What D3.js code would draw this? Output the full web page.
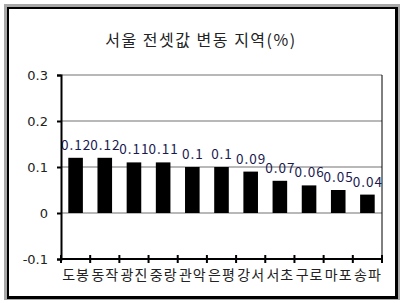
<!doctype html>
<html>
<head>
<meta charset="utf-8">
<script src="https://d3js.org/d3.v7.min.js"></script>
<style>
body { margin: 0; background: #fff; }
text { font-family: "Noto Sans CJK KR", "DejaVu Sans", sans-serif; }
</style>
</head>
<body>
<script>
const regions = ["도봉", "동작", "광진", "중랑", "관악", "은평", "강서", "서초", "구로", "마포", "송파"];
const changes = [0.12, 0.12, 0.11, 0.11, 0.1, 0.1, 0.09, 0.07, 0.06, 0.05, 0.04];
const yTicks = [-0.1, 0, 0.1, 0.2, 0.3];
const yTickLabels = ["-0.1", "0", "0.1", "0.2", "0.3"];

const w = 403, h = 303;
const svg = d3.select("body").append("svg")
	.attr("width", w)
	.attr("height", h);

// frame: gray outline, black shadowed border, white inside
svg.append("rect").attr("x", 4).attr("y", 4).attr("width", 396).attr("height", 296).attr("fill", "#a8a8a8");
svg.append("rect").attr("x", 7).attr("y", 7).attr("width", 391).attr("height", 292).attr("fill", "#000");
svg.append("rect").attr("x", 9).attr("y", 9).attr("width", 386).attr("height", 287).attr("fill", "#fff");

svg.append("text")
	.attr("x", 201).attr("y", 46)
	.attr("text-anchor", "middle")
	.style("font-size", "16px")
	.style("letter-spacing", "1.5px")
	.style("fill", "#222")
	.text("서울 전셋값 변동 지역(%)");

const plotLeft = 61, plotRight = 382, plotTop = 75, plotBottom = 259;

const x = d3.scaleBand()
	.domain(regions)
	.range([plotLeft, plotRight])
	.paddingInner(0.5)
	.paddingOuter(0.25);

const y = d3.scaleLinear()
	.domain([-0.1, 0.3])
	.range([plotBottom, plotTop]);

// gridlines
svg.append("g").selectAll("line")
	.data(yTicks.filter(d => d > -0.1))
	.enter().append("line")
	.attr("x1", plotLeft).attr("x2", plotRight)
	.attr("y1", d => y(d)).attr("y2", d => y(d))
	.attr("stroke", "#a0a0a0")
	.attr("stroke-width", 1.5);

// right border of plot area
svg.append("line")
	.attr("x1", plotRight).attr("x2", plotRight)
	.attr("y1", plotTop).attr("y2", plotBottom)
	.attr("stroke", "#000").attr("stroke-width", 1);

// bars
svg.append("g").selectAll("rect")
	.data(changes)
	.enter().append("rect")
	.attr("x", (d, i) => x(regions[i]))
	.attr("width", x.bandwidth())
	.attr("y", d => y(d))
	.attr("height", d => y(0) - y(d))
	.attr("fill", "#000");

// value labels
svg.append("g").selectAll("text")
	.data(changes)
	.enter().append("text")
	.attr("x", (d, i) => x(regions[i]) + x.bandwidth() / 2 + 0.5)
	.attr("y", d => y(d) - 8)
	.attr("text-anchor", "middle")
	.style("font-size", "13.5px")
	.style("letter-spacing", "1px")
	.style("fill", "#1a1a50")
	.text(d => d);

// y axis
const yAxis = svg.append("g")
	.attr("transform", `translate(${plotLeft},0)`)
	.call(d3.axisLeft(y).tickValues(yTicks).tickSize(4).tickFormat((d, i) => yTickLabels[i]));
yAxis.select(".domain").attr("stroke", "#000").attr("stroke-width", 2);
yAxis.selectAll(".tick line").attr("stroke-width", 2);
yAxis.selectAll("text")
	.attr("x", -13)
	.style("font-size", "13px")
	.style("fill", "#222")
	.style("font-family", "'DejaVu Sans', sans-serif");

// x axis with ticks between categories
const xAxis = svg.append("g")
	.attr("transform", `translate(0,${plotBottom})`);
xAxis.append("line")
	.attr("x1", plotLeft).attr("x2", plotRight)
	.attr("stroke", "#000").attr("stroke-width", 2);
xAxis.selectAll(".sep")
	.data(d3.range(regions.length + 1))
	.enter().append("line")
	.attr("class", "sep")
	.attr("x1", i => plotLeft + i * x.step())
	.attr("x2", i => plotLeft + i * x.step())
	.attr("y1", -4).attr("y2", 4)
	.attr("stroke", "#000").attr("stroke-width", 2);
xAxis.selectAll(".lbl")
	.data(regions)
	.enter().append("text")
	.attr("class", "lbl")
	.attr("x", d => x(d) + x.bandwidth() / 2 + 0.5)
	.attr("y", 21)
	.attr("text-anchor", "middle")
	.style("font-size", "14px")
	.style("letter-spacing", "1px")
	.style("fill", "#222")
	.text(d => d);
</script>
</body>
</html>
